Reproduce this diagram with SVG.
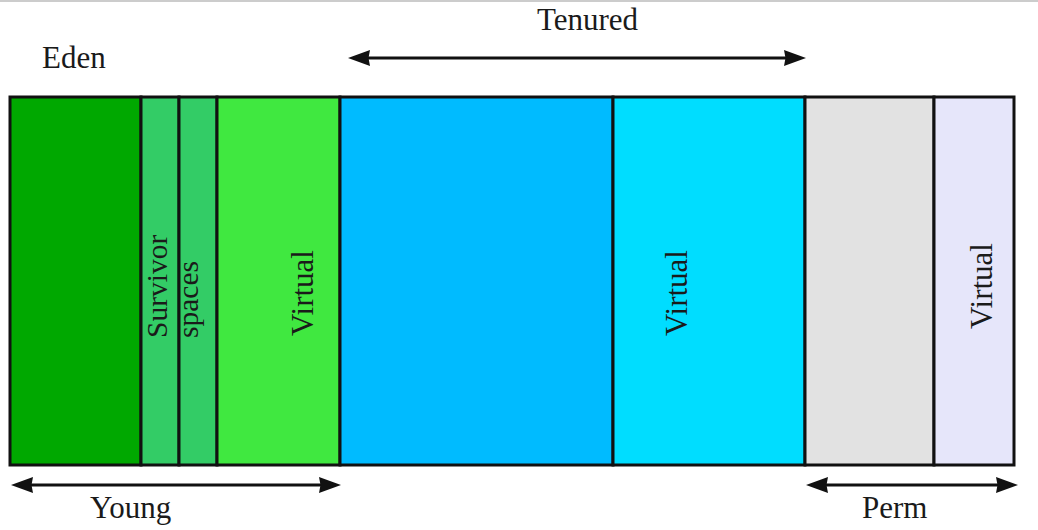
<svg xmlns="http://www.w3.org/2000/svg" width="1038" height="530" viewBox="0 0 1038 530">
  <style>
    .blk { stroke: #111; stroke-width: 3; }
    .lbl { font-family: "Liberation Serif", "Times New Roman", serif; font-size: 31px; fill: #1a1a1a; }
    .vl { font-family: "Liberation Serif", "Times New Roman", serif; font-size: 31px; fill: #1a1a1a; }
    .sm { font-size: 29.5px; }
    .conn { stroke: #111; stroke-width: 3; fill: none; }
  </style>
  <defs>
    <marker id="ah" viewBox="0 0 22 16" refX="3" refY="8" markerWidth="22" markerHeight="16" markerUnits="userSpaceOnUse" orient="auto-start-reverse">
      <path d="M0,0 L22,8 L0,16 L1.5,8 Z" fill="#111"/>
    </marker>
  </defs>
  <rect x="0" y="0" width="1038" height="530" fill="#ffffff"/>
  <line x1="0" y1="1" x2="1038" y2="1" stroke="#cccccc" stroke-width="2"/>

  <g id="eden">
    <rect x="10" y="97" width="131" height="368" fill="#00a800" class="blk"/>
    <text class="lbl" x="42" y="68">Eden</text>
  </g>
  <g id="survivor1">
    <rect x="141" y="97" width="38" height="368" fill="#33cc66" class="blk"/>
    <text class="vl sm" transform="translate(167,338) rotate(-90)">Survivor</text>
  </g>
  <g id="survivor2">
    <rect x="179" y="97" width="38" height="368" fill="#33cc66" class="blk"/>
    <text class="vl sm" transform="translate(198,338) rotate(-90)">spaces</text>
  </g>
  <g id="young-virtual">
    <rect x="217" y="97" width="123" height="368" fill="#40e840" class="blk"/>
    <text class="vl" transform="translate(313,336) rotate(-90)">Virtual</text>
  </g>
  <g id="tenured">
    <rect x="340" y="97" width="273" height="368" fill="#00bbff" class="blk"/>
  </g>
  <g id="tenured-virtual">
    <rect x="613" y="97" width="192" height="368" fill="#00ddff" class="blk"/>
    <text class="vl" transform="translate(687,336) rotate(-90)">Virtual</text>
  </g>
  <g id="perm">
    <rect x="805" y="97" width="129" height="368" fill="#e2e2e2" class="blk"/>
  </g>
  <g id="perm-virtual">
    <rect x="934" y="97" width="80" height="368" fill="#e6e6fa" class="blk"/>
    <text class="vl" transform="translate(992,329) rotate(-90)">Virtual</text>
  </g>

  <g id="connectors">
    <line class="conn" x1="30" y1="485" x2="322" y2="485" marker-start="url(#ah)" marker-end="url(#ah)"/>
    <line class="conn" x1="367" y1="58" x2="787" y2="58" marker-start="url(#ah)" marker-end="url(#ah)"/>
    <line class="conn" x1="825" y1="485" x2="999" y2="485" marker-start="url(#ah)" marker-end="url(#ah)"/>
  </g>

  <g id="labels">
    <text class="lbl" x="537" y="30">Tenured</text>
    <text class="lbl" x="90" y="518">Young</text>
    <text class="lbl" x="862" y="518">Perm</text>
  </g>
</svg>
